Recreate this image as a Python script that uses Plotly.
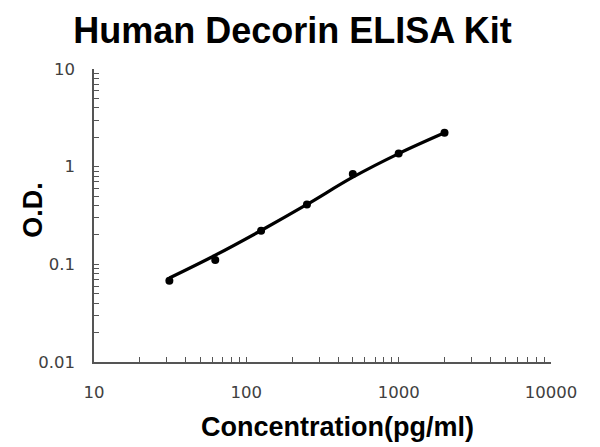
import plotly.graph_objects as go

# standard curve readings
conc = [31.25, 62.5, 125, 250, 500, 1000, 2000]
od = [0.068, 0.111, 0.221, 0.41, 0.84, 1.36, 2.22]
# fitted curve as drawn in the reference, at the same concentrations
fit_od = [0.0725, 0.124, 0.222, 0.41, 0.78, 1.36, 2.22]

x_ticks = [m * 10 ** e for e in range(1, 4) for m in range(1, 10)] + [10000]
x_labels = [str(v) if v in (10, 100, 1000, 10000) else "" for v in x_ticks]
y_ticks = [round(m * 10 ** e, 4) for e in range(-2, 1) for m in range(1, 10)] + [10]
y_labels = {0.01: "0.01", 0.1: "0.1", 1: "1", 10: "10"}
y_text = [y_labels.get(v, "") for v in y_ticks]

fig = go.Figure()
fig.add_trace(go.Scatter(
    x=conc, y=fit_od,
    mode="lines",
    line=dict(color="black", width=3.2, shape="spline", smoothing=1),
))
fig.add_trace(go.Scatter(
    x=conc, y=od,
    mode="markers",
    marker=dict(color="black", size=8),
))

# the page body adds an 8px margin, so the figure is sized to fit the window
axis_font = dict(family="DejaVu Sans", size=16.5, color="#404040")
fig.update_layout(
    width=592, height=439,
    margin=dict(l=86, r=49, t=61, b=85),
    plot_bgcolor="white",
    paper_bgcolor="white",
    showlegend=False,
    title=dict(
        text="<b>Human Decorin ELISA Kit</b>",
        x=0.4806, xanchor="center",
        y=0.95, yanchor="middle", yref="container",
        font=dict(family="Liberation Sans", size=36, color="black"),
    ),
    xaxis=dict(
        type="log", range=[1, 4], automargin=False,
        tickvals=x_ticks, ticktext=x_labels,
        ticks="inside", ticklen=5, tickcolor="#555",
        showline=True, linecolor="#555", linewidth=1.5,
        showgrid=False, zeroline=False,
        tickfont=axis_font, ticklabelstandoff=14,
    ),
    yaxis=dict(
        type="log", range=[-2, 1], automargin=False,
        tickvals=y_ticks, ticktext=y_text,
        ticks="inside", ticklen=5, tickcolor="#555",
        showline=True, linecolor="#555", linewidth=1.5,
        showgrid=False, zeroline=False,
        tickfont=axis_font, ticklabelstandoff=14,
    ),
)

fig.add_annotation(
    text="<b>O.D.</b>", textangle=-90,
    xref="paper", yref="paper", x=-0.1335, y=0.52,
    xanchor="center", yanchor="middle", showarrow=False,
    font=dict(family="Liberation Sans", size=27, color="black"),
)
fig.add_annotation(
    text="<b>Concentration(pg/ml)</b>",
    xref="paper", yref="paper", x=0.533, y=-0.222,
    xanchor="center", yanchor="middle", showarrow=False,
    font=dict(family="Liberation Sans", size=27, color="black"),
)

fig.write_html("out.html")
